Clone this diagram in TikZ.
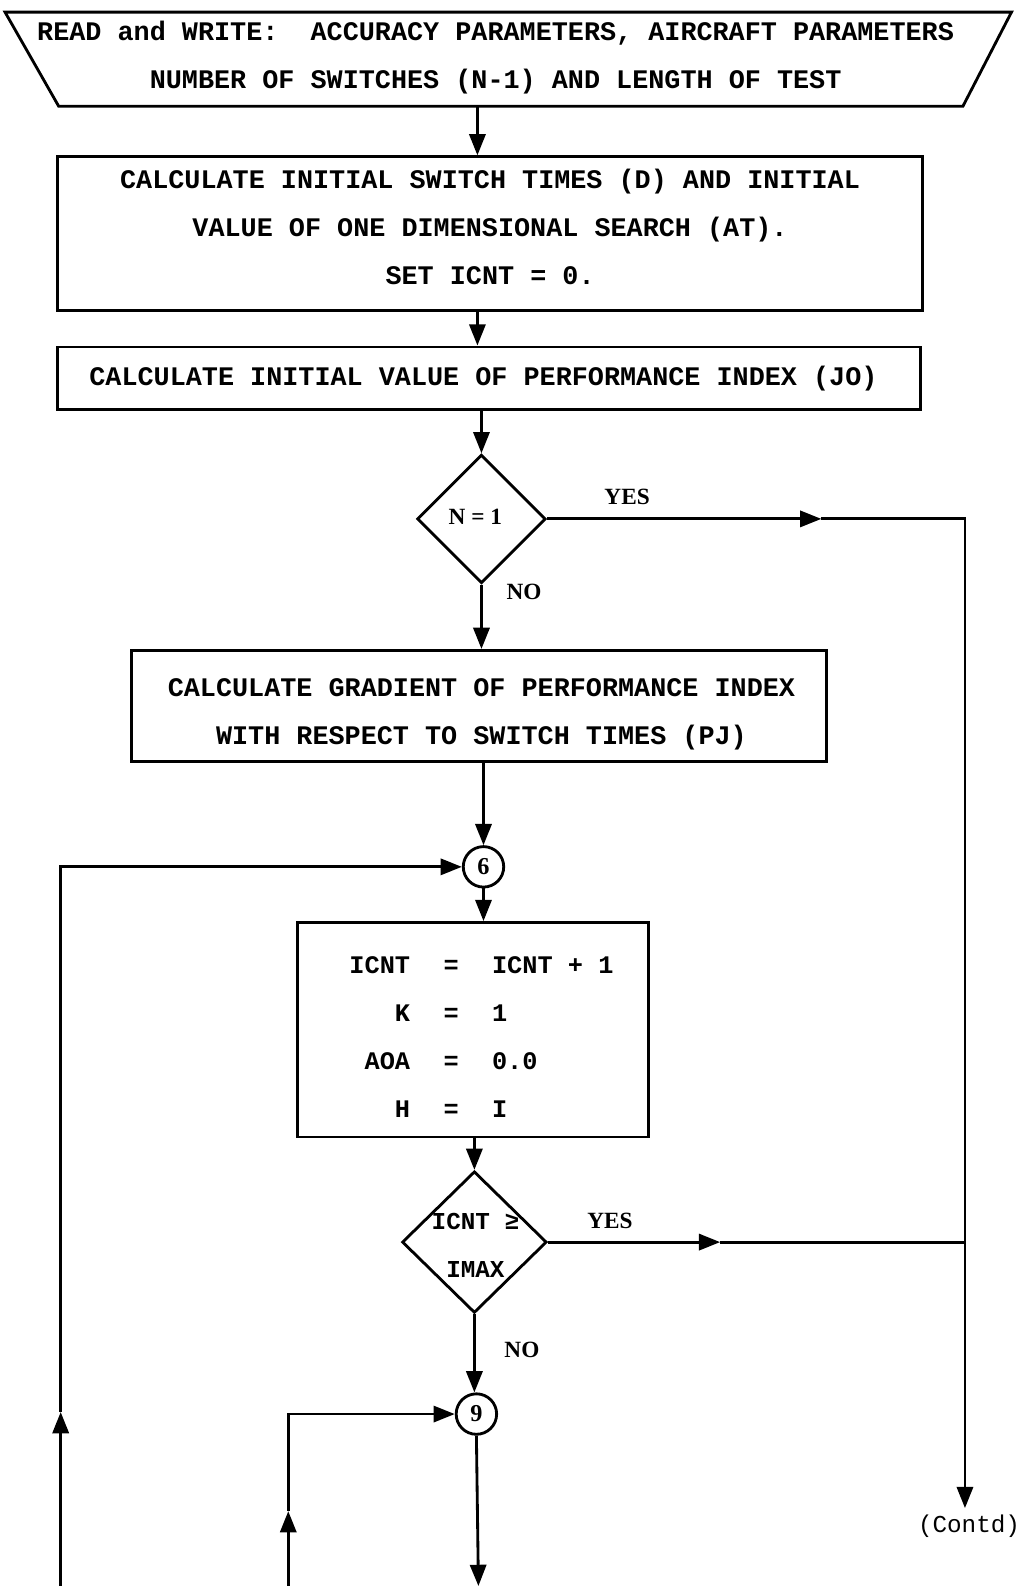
\documentclass[tikz,border=0pt]{standalone}
\usepackage{fontspec}
\setmainfont{Liberation Serif}
\setmonofont{Liberation Mono}
\usetikzlibrary{arrows.meta,shapes.geometric}
\begin{document}
\begin{tikzpicture}[x=1pt,y=-1pt,line width=2.8pt,
  arr/.style={-{Triangle[length=21pt,width=16pt]}},
  box/.style={draw,rectangle,inner sep=0pt},
  mono/.style={font=\fontsize{26.5}{47.5}\selectfont\ttfamily\bfseries,align=center,inner sep=0pt},
  lab/.style={font=\fontsize{23}{27}\selectfont\bfseries},
  dia/.style={draw,diamond,inner sep=0pt,aspect=1},
  conn/.style={draw,circle,inner sep=0pt,minimum size=40pt,font=\fontsize{24}{28}\selectfont\bfseries}]
\useasboundingbox (0,0) rectangle (1013,1568);

% read/write trapezoid
\draw (5,12) -- (1000,12) -- (952,105) -- (58,105) -- cycle;
\node[mono] (rw) at (490,57) {READ and WRITE:~ ACCURACY PARAMETERS, AIRCRAFT PARAMETERS\\NUMBER OF SWITCHES (N-1) AND LENGTH OF TEST};
\coordinate (rwb) at (472,105);

\node[box,minimum width=855pt,minimum height=152pt] (b2) at (484.5,231) {};
\node[mono] (b2t) at (484.5,224) {CALCULATE INITIAL SWITCH TIMES (D) AND INITIAL\\VALUE OF ONE DIMENSIONAL SEARCH (AT).\\SET ICNT = 0.};
\node[box,minimum width=853pt,minimum height=62pt] (b3) at (483.5,374) {};
\node[mono] (b3t) at (478,374) {CALCULATE INITIAL VALUE OF PERFORMANCE INDEX (JO)};
\node[dia,minimum width=127pt,minimum height=127pt] (d1) at (476,513) {};
\node[lab] (d1t) at (470,511) {N = 1};
\node[box,minimum width=687pt,minimum height=110pt] (b4) at (473.5,698) {};
\node[mono] (b4t) at (476,706) {CALCULATE GRADIENT OF PERFORMANCE INDEX\\WITH RESPECT TO SWITCH TIMES (PJ)};
\node[conn] (c6) at (478,857) {6};
\node[box,minimum width=347pt,minimum height=212pt] (b5) at (467.5,1018) {};
\node[font=\fontsize{25}{47.7}\selectfont\ttfamily\bfseries,inner sep=0pt] (b5t) at (476,1024) {\begin{tabular}{@{}r@{\hspace{33pt}}c@{\hspace{33pt}}l@{}}ICNT & = & ICNT + 1\\K & = & 1\\AOA & = & 0.0\\H & = & I\end{tabular}};
\node[dia,minimum width=143pt,minimum height=140pt] (d2) at (469,1228) {};
\node[font=\fontsize{24}{47}\selectfont\ttfamily\bfseries,align=center,inner sep=0pt] (d2t) at (470,1231) {ICNT ≥\\IMAX};
\node[conn] (c9) at (471,1398) {9};
\node[font=\fontsize{24}{28}\selectfont\ttfamily,inner sep=0pt] (contd) at (958,1509) {(Contd)};

% labels
\node[lab] (y1) at (620,491) {YES};
\node[lab] (n1) at (518,585) {NO};
\node[lab] (y2) at (603,1207) {YES};
\node[lab] (n2) at (516,1335) {NO};

% coordinates
\coordinate (s1) at (472,0);
\coordinate (rx) at (954,0);
\coordinate (ce) at (954,1491);
\coordinate (l1) at (60,1568);
\coordinate (l2) at (285,1568);
\coordinate (bot) at (473,1568);
\coordinate (m1) at (812,513);
\coordinate (m2) at (712,1228);
\coordinate (u1) at (60,1396);
\coordinate (u2) at (285,1494);

% connectors
\draw[arr] (rwb) -- (rwb |- b2.north);
\draw[arr] (b2.south -| s1) -- (b3.north -| s1);
\draw[arr] (b3.south -| d1.north) -- (d1.north);
\draw[arr] (d1.south) -- (d1.south |- b4.north);
\draw[arr] (b4.south -| c6.north) -- (c6.north);
\draw[arr] (c6.south) -- (c6.south |- b5.north);
\draw[arr] (b5.south -| d2.north) -- (d2.north);
\draw[arr] (d2.south) -- (d2.south |- c9.north);
\draw[arr] (c9.south) -- (bot);
\draw[arr] (d1.east) -- (m1);
\draw[arr] (m1) -- (m1 -| rx) -- (ce);
\draw[arr] (d2.east) -- (m2);
\draw (m2) -- (m2 -| rx);
\draw[arr] (l1) -- (u1);
\draw[arr] (u1) -- (u1 |- c6.west) -- (c6.west);
\draw[arr] (l2) -- (u2);
\draw[arr] (u2) -- (u2 |- c9.west) -- (c9.west);
\end{tikzpicture}
\end{document}
